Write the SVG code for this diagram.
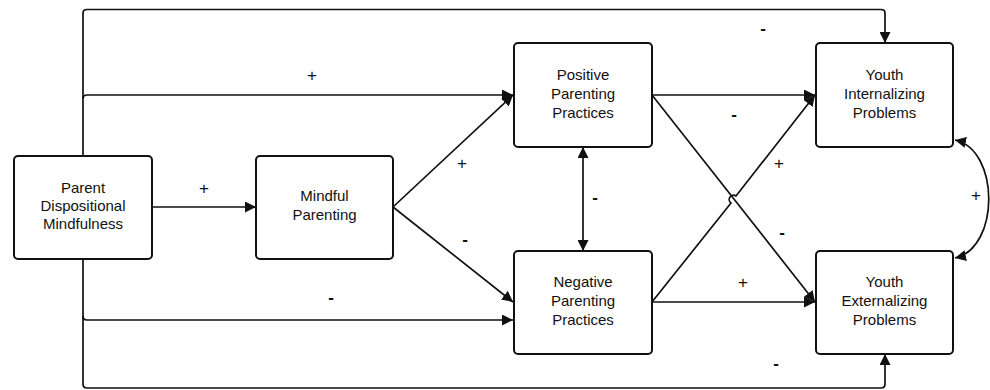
<svg xmlns="http://www.w3.org/2000/svg" width="990" height="390" viewBox="0 0 990 390">
<style>
.box{fill:#fff;stroke:#111;stroke-width:2}
.t{font-family:"Liberation Sans",Arial,sans-serif;font-size:15px;fill:#111;text-anchor:middle}
.s{font-family:"Liberation Sans",Arial,sans-serif;font-size:17px;fill:#111;text-anchor:middle}
.m{font-family:"Liberation Sans",Arial,sans-serif;font-size:17px;font-weight:bold;fill:#111;text-anchor:middle}
.c{fill:none;stroke:#111;stroke-width:1.7;stroke-linejoin:round}
</style>
<defs>
<marker id="a" viewBox="0 0 10 10" refX="10" refY="5" markerWidth="11" markerHeight="11" markerUnits="userSpaceOnUse" orient="auto-start-reverse">
<path d="M0,0 L10,5 L0,10 Z" fill="#111"/>
</marker>
</defs>
<rect width="990" height="390" fill="#fff"/>
<g id="connectors">
<path class="c" d="M83,156 V13 Q83,9.5 87,9.5 H881 Q885,9.5 885,13 V43" marker-end="url(#a)"/>
<path class="c" d="M83,99 Q83,95 87,95 H513" marker-end="url(#a)"/>
<path class="c" d="M152,207 H256" marker-end="url(#a)"/>
<path class="c" d="M393,207 L513,95" marker-end="url(#a)"/>
<path class="c" d="M393,207 L513,302" marker-end="url(#a)"/>
<path class="c" d="M83,259 V316 Q83,320 87,320 H513" marker-end="url(#a)"/>
<path class="c" d="M83,316 V384 Q83,388 87,388 H881 Q885,388 885,384 V354" marker-end="url(#a)"/>
<path class="c" d="M583,147 V251" marker-start="url(#a)" marker-end="url(#a)"/>
<path class="c" d="M652,95 H815" marker-end="url(#a)"/>
<path class="c" d="M652,302 H815" marker-end="url(#a)"/>
<path class="c" d="M652,95 L815,302" marker-end="url(#a)"/>
<path class="c" d="M652,302 L731,203 A3,3 0 0 1 736,196 L815,95" marker-end="url(#a)"/>
<path class="c" d="M955,140 C1000,150 1000,248 955,258" marker-start="url(#a)" marker-end="url(#a)"/>
</g>
<g id="parent">
<rect class="box" x="14" y="156" width="138" height="103" rx="4"/>
<text class="t" x="83" y="193">Parent</text>
<text class="t" x="83" y="211">Dispositional</text>
<text class="t" x="83" y="229">Mindfulness</text>
</g>
<g id="mindful">
<rect class="box" x="256" y="156" width="137" height="103" rx="4"/>
<text class="t" x="324.5" y="201">Mindful</text>
<text class="t" x="324.5" y="220">Parenting</text>
</g>
<g id="positive">
<rect class="box" x="514" y="43" width="138" height="104" rx="4"/>
<text class="t" x="583" y="80">Positive</text>
<text class="t" x="583" y="99">Parenting</text>
<text class="t" x="583" y="118">Practices</text>
</g>
<g id="negative">
<rect class="box" x="514" y="251" width="138" height="103" rx="4"/>
<text class="t" x="583" y="287">Negative</text>
<text class="t" x="583" y="306">Parenting</text>
<text class="t" x="583" y="325">Practices</text>
</g>
<g id="internalizing">
<rect class="box" x="816" y="43" width="137" height="104" rx="4"/>
<text class="t" x="884.5" y="80">Youth</text>
<text class="t" x="884.5" y="99">Internalizing</text>
<text class="t" x="884.5" y="118">Problems</text>
</g>
<g id="externalizing">
<rect class="box" x="816" y="251" width="137" height="103" rx="4"/>
<text class="t" x="884.5" y="287">Youth</text>
<text class="t" x="884.5" y="306">Externalizing</text>
<text class="t" x="884.5" y="325">Problems</text>
</g>
<g id="labels">
<text class="m" x="763" y="34">-</text>
<text class="s" x="312" y="81">+</text>
<text class="s" x="204" y="194">+</text>
<text class="s" x="462" y="169">+</text>
<text class="m" x="734" y="120">-</text>
<text class="s" x="779" y="169">+</text>
<text class="m" x="595" y="203">-</text>
<text class="s" x="976" y="201">+</text>
<text class="m" x="465" y="245">-</text>
<text class="m" x="331" y="303">-</text>
<text class="m" x="782" y="238">-</text>
<text class="s" x="743" y="288">+</text>
<text class="m" x="776" y="369">-</text>
</g>
</svg>
